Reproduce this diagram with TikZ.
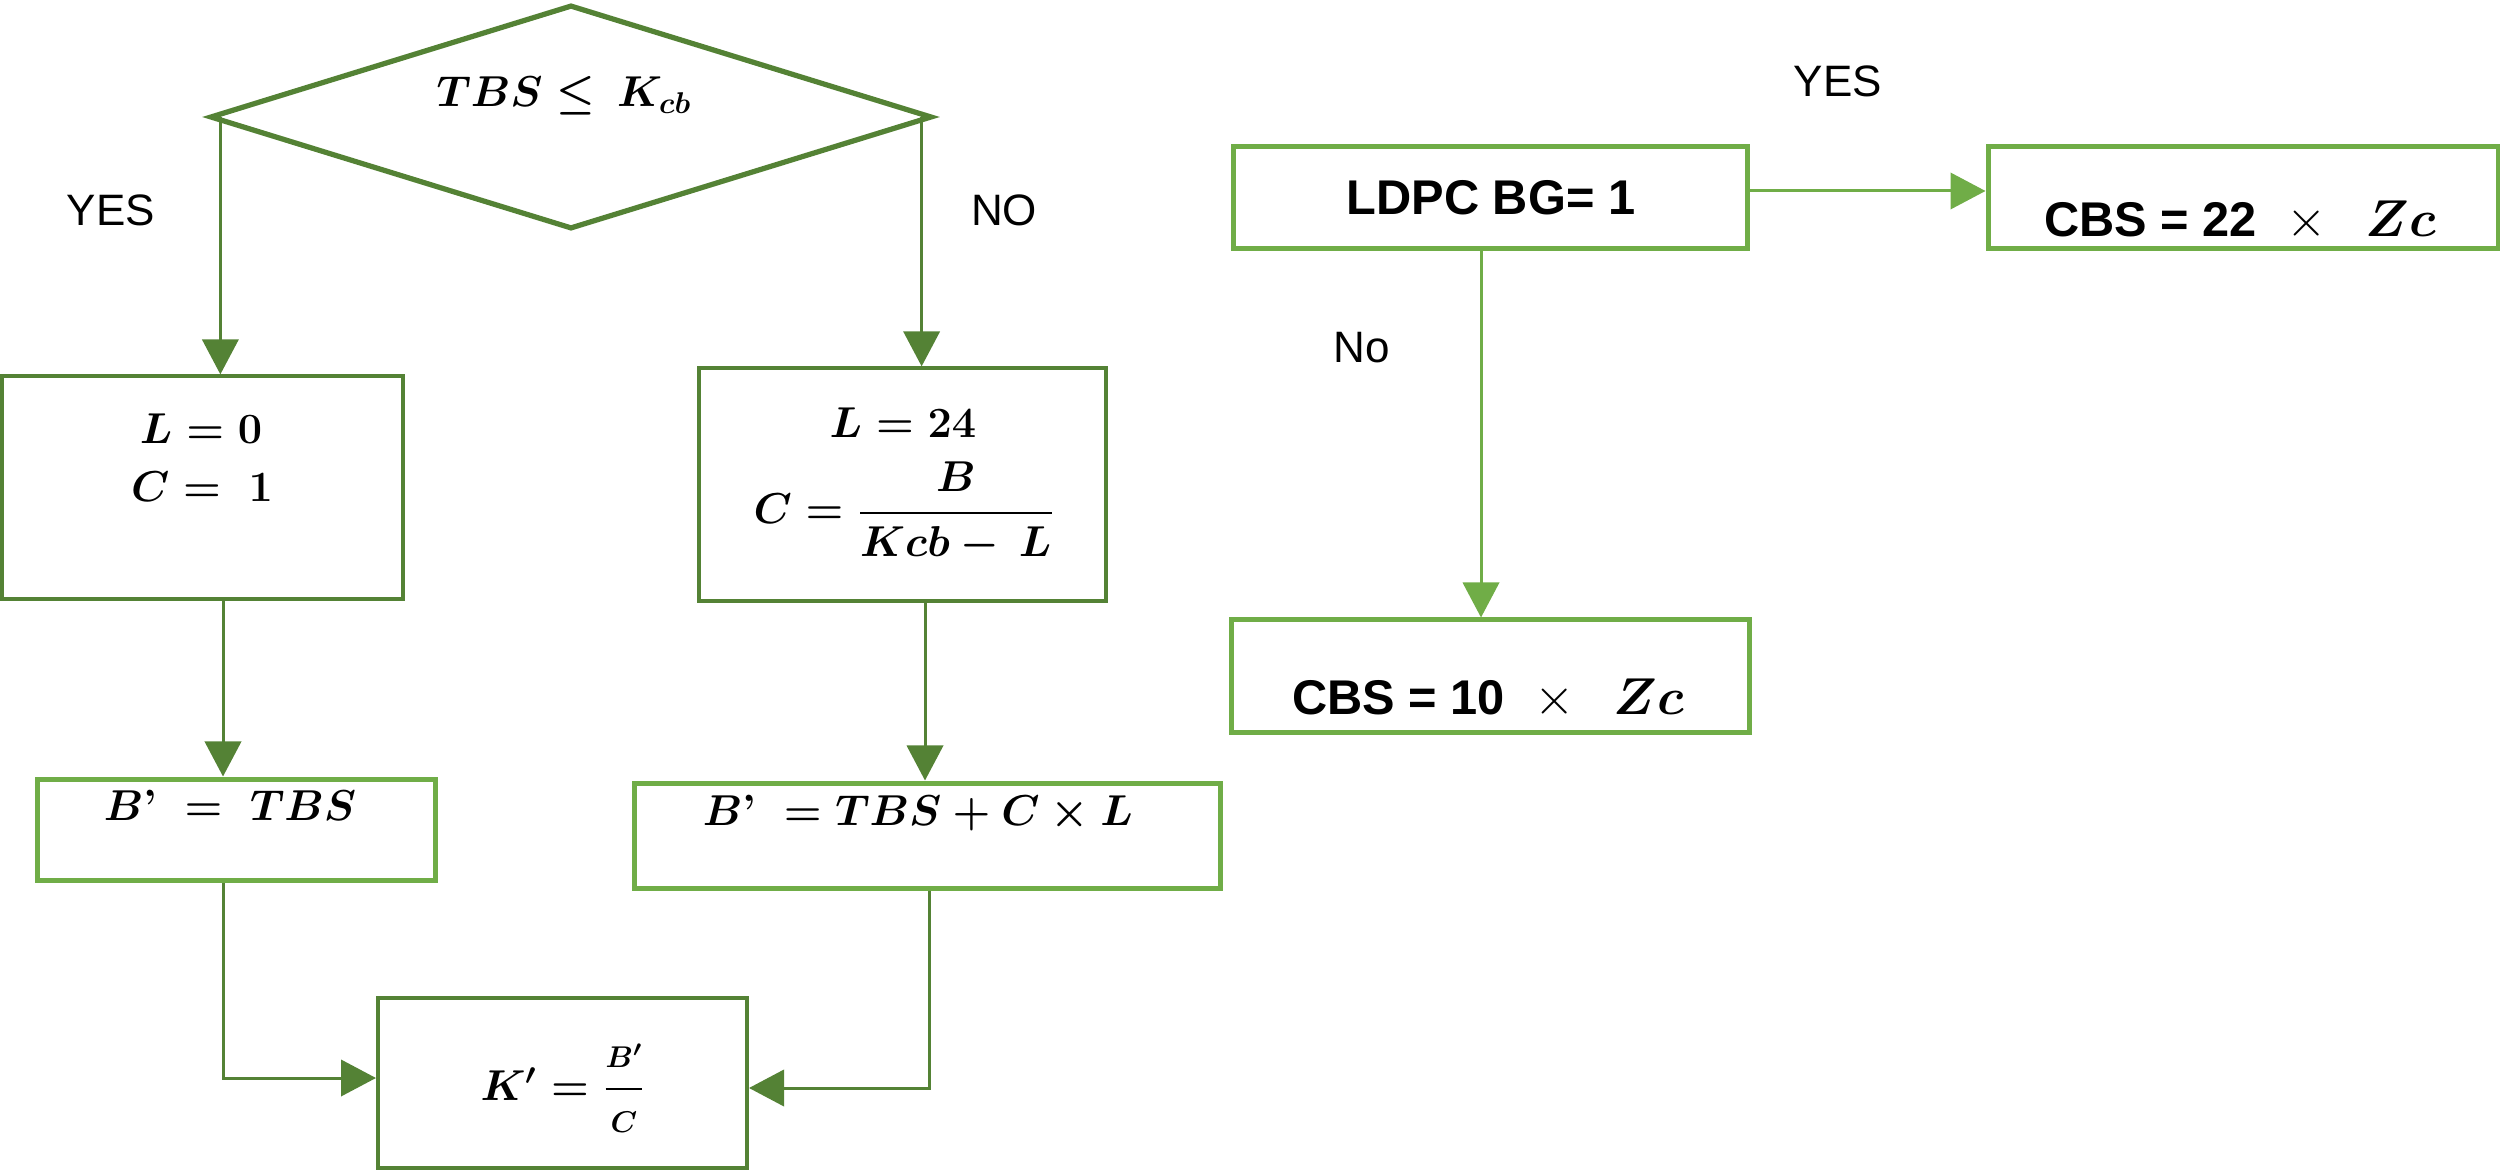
\documentclass[tikz,border=0pt]{standalone}
\usepackage{amsmath}
\usepackage{fontspec}
\newfontfamily\arialfont{Liberation Sans}
\usetikzlibrary{shapes.geometric,arrows.meta}
\definecolor{dkgreen}{HTML}{548235}
\definecolor{ltgreen}{HTML}{70AD47}
\tikzset{
  mth/.style={font=\fontsize{17.5}{21}\selectfont\boldmath, inner sep=0pt, anchor=base},
  lbl/.style={font=\arialfont\fontsize{17.6}{21}\selectfont, inner sep=0pt, anchor=base},
  sbold/.style={font=\arialfont\bfseries\fontsize{19.5}{23}\selectfont, inner sep=0pt, anchor=base},
  dkbox/.style={rectangle, draw=dkgreen, line width=1.3pt, inner sep=0pt},
  ltbox/.style={rectangle, draw=ltgreen, line width=2pt, inner sep=0pt},
  kbox/.style={rectangle, draw=dkgreen, line width=1.6pt, inner sep=0pt},
  dkarr/.style={color=dkgreen, line width=1.2pt, -{Triangle[length=14pt,width=14.5pt]}},
  ltarr/.style={color=ltgreen, line width=1.2pt, -{Triangle[length=14pt,width=14.5pt]}},
}
\begin{document}
\begin{tikzpicture}[x=0.4pt,y=-0.4pt]
\useasboundingbox (0,0) rectangle (2500,1171);

% decision and boxes
\node[diamond, draw=dkgreen, line width=2.1pt, minimum width=288.8pt, minimum height=89.6pt, inner sep=0pt] (dia) at (571,117) {};
\node[dkbox, minimum width=160.4pt, minimum height=89.2pt] (b1) at (202.5,487.5) {};
\node[ltbox, minimum width=158.8pt, minimum height=40.4pt] (c1) at (236.5,829.5) {};
\node[dkbox, minimum width=162.8pt, minimum height=93.2pt] (b2) at (902.5,484.5) {};
\node[ltbox, minimum width=234.4pt, minimum height=42pt] (c2) at (927,835.5) {};
\node[kbox, minimum width=147.6pt, minimum height=68pt] (k) at (562.5,1083) {};

% math texts
\node[mth] (tdia) at (564,107) {$TBS\leq\,K_{cb}$};
\node[mth] (tl0) at (201,444) {$L=0$};
\node[mth] (tc1) at (202,502) {$C=\;1$};
\node[mth] (tc1b) at (230,820) {$B\mbox{\bfseries ’}\;=\;TBS$};
\node[mth] (tl24) at (903,438) {$L=24$};
\node[mth] (tcf) at (904,524) {$C=\dfrac{B}{Kcb-\,L}$};
\node[mth] (tc2b) at (918,825) {$B\mbox{\bfseries ’}\;=TBS+C\times L$};
\node[mth] (tk) at (563,1100) {$K'=\dfrac{\scriptstyle B'}{\scriptstyle C}$};

% labels
\node[lbl] (yes1) at (111,226) {YES};
\node[lbl] (no1) at (1004,226) {NO};

% right part
\node[ltbox, minimum width=205.6pt, minimum height=40.8pt] (ldpc) at (1490,198) {};
\node[sbold] (tldpc) at (1491,215) {LDPC BG= 1};
\node[ltbox, minimum width=204pt, minimum height=40.8pt] (cbs22) at (2243,198) {};
\node[sbold] (tcbs22) at (2240,237) {CBS = 22\hspace{0.6em}$\times$\hspace{0.8em}$\boldsymbol{Zc}$};
\node[ltbox, minimum width=207.2pt, minimum height=44.8pt] (cbs10) at (1490,676) {};
\node[sbold] (tcbs10) at (1488,714) {CBS = 10\hspace{0.6em}$\times$\hspace{0.8em}$\boldsymbol{Zc}$};
\node[lbl] (yes2) at (1838,97) {YES};
\node[lbl] (no2) at (1362,363) {No};

% connectors
\coordinate (dl) at ([xshift=5.2pt]dia.west);
\coordinate (dr) at ([xshift=-5.2pt]dia.east);
\draw[dkarr] (dl) -- (dl |- b1.north);
\draw[dkarr] (dr) -- (dr |- b2.north);

\coordinate (b1s) at ([xshift=8.2pt]b1.south);
\draw[dkarr] (b1s) -- (b1s |- c1.north);
\coordinate (b2s) at ([xshift=9pt]b2.south);
\draw[dkarr] (b2s) -- (b2s |- c2.north);

\coordinate (c1s) at ([xshift=-5.4pt]c1.south);
\draw[dkarr] (c1s) |- ([yshift=2pt]k.west);
\coordinate (c2s) at ([xshift=0.8pt]c2.south);
\draw[dkarr] (c2s) |- ([yshift=-2pt]k.east);

\coordinate (le) at ([yshift=2.8pt]ldpc.east);
\draw[ltarr] (le) -- (le -| cbs22.west);
\coordinate (ls) at ([xshift=-3.6pt]ldpc.south);
\draw[ltarr] (ls) -- (ls |- cbs10.north);
\end{tikzpicture}
\end{document}
